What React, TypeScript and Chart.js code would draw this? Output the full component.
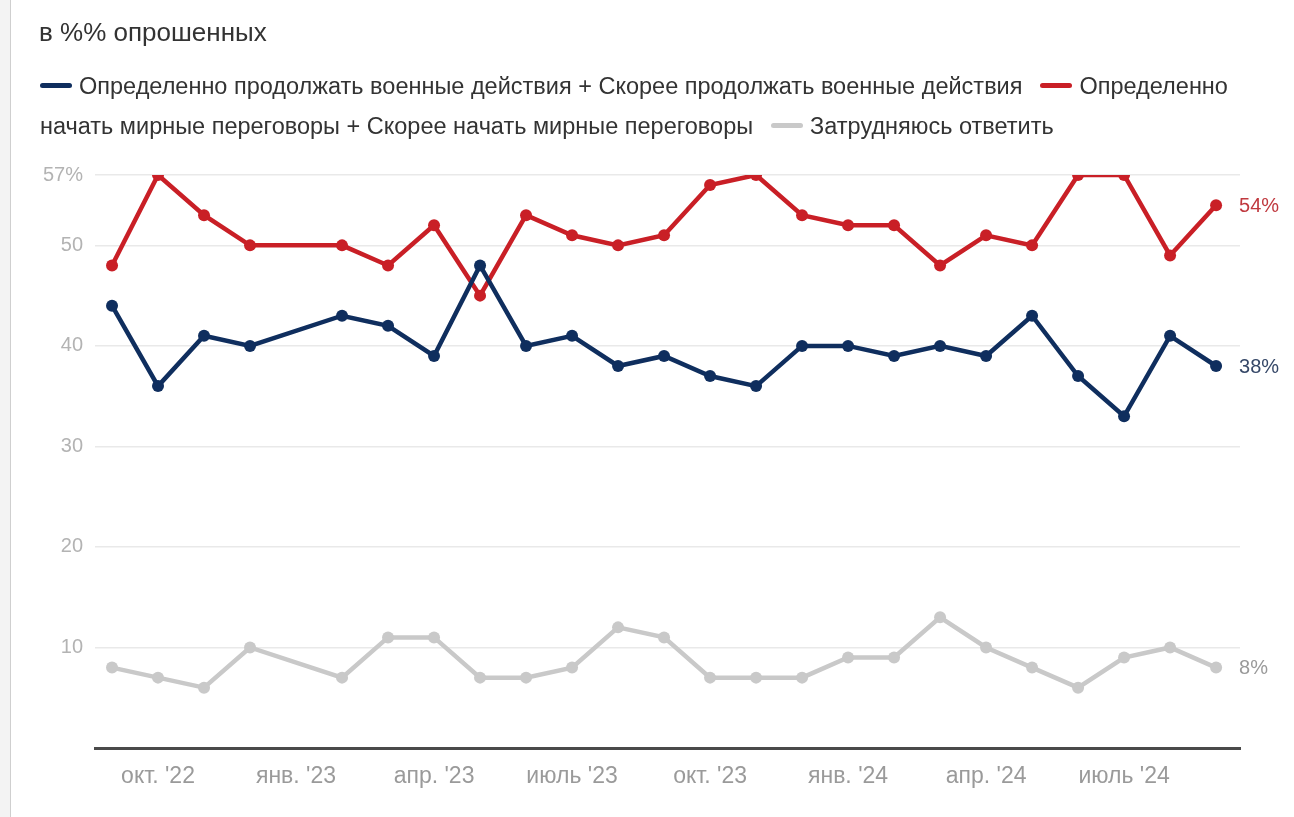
import React, { useEffect, useRef } from "react";
import { Chart, registerables } from "chart.js";

Chart.register(...registerables);

const surveyMonths = [
  "2022-09", "2022-10", "2022-11", "2022-12",
  "2023-02", "2023-03", "2023-04", "2023-05", "2023-06", "2023-07", "2023-08", "2023-09", "2023-10", "2023-11", "2023-12",
  "2024-01", "2024-02", "2024-03", "2024-04", "2024-05", "2024-06", "2024-07", "2024-08", "2024-09",
];

const warValues = [44, 36, 41, 40, 43, 42, 39, 48, 40, 41, 38, 39, 37, 36, 40, 40, 39, 40, 39, 43, 37, 33, 41, 38];
const peaceValues = [48, 57, 53, 50, 50, 48, 52, 45, 53, 51, 50, 51, 56, 57, 53, 52, 52, 48, 51, 50, 57, 57, 49, 54];
const unsureValues = [8, 7, 6, 10, 7, 11, 11, 7, 7, 8, 12, 11, 7, 7, 7, 9, 9, 13, 10, 8, 6, 9, 10, 8];

const tickMonths = ["2022-10", "2023-01", "2023-04", "2023-07", "2023-10", "2024-01", "2024-04", "2024-07"];
const tickLabels = ["окт. '22", "янв. '23", "апр. '23", "июль '23", "окт. '23", "янв. '24", "апр. '24", "июль '24"];

const yTicks = [0, 10, 20, 30, 40, 50, 57];

const seriesNames = [
  "Определенно продолжать военные действия + Скорее продолжать военные действия",
  "Определенно начать мирные переговоры + Скорее начать мирные переговоры",
  "Затрудняюсь ответить",
];

const BLUE = "#0f2e5e";
const RED = "#c91f26";
const GRAY = "#c9c9c9";

const monthIndex = (s: string) => {
  const [y, m] = s.split("-").map(Number);
  return (y - 2022) * 12 + (m - 9);
};

const toPoints = (vals: number[]) => vals.map((v, i) => ({ x: monthIndex(surveyMonths[i]), y: v }));

const FONT = "'Liberation Sans', Arial, Helvetica, sans-serif";

export default function App() {
  const ref = useRef<HTMLCanvasElement | null>(null);

  useEffect(() => {
    document.body.style.margin = "0";
    const canvas = ref.current;
    if (!canvas) return;

    const endLabels = {
      id: "endLabels",
      afterDatasetsDraw(chart: any) {
        const ctx = chart.ctx;
        ctx.save();
        ctx.font = `20px ${FONT}`;
        ctx.textAlign = "left";
        ctx.textBaseline = "middle";
        chart.data.datasets.forEach((ds: any, i: number) => {
          const meta = chart.getDatasetMeta(i);
          const pt = meta.data[meta.data.length - 1];
          const v = ds.data[ds.data.length - 1].y;
          ctx.fillStyle = ds.endLabelColor;
          ctx.fillText(`${v}%`, pt.x + 23, pt.y + 1);
        });
        ctx.restore();
      },
    };

    const chart = new Chart(canvas, {
      type: "line",
      data: {
        datasets: [
          {
            label: seriesNames[2],
            data: toPoints(unsureValues),
            borderColor: GRAY,
            backgroundColor: GRAY,
            borderWidth: 4.5,
            pointRadius: 6,
            pointBorderWidth: 0,
            endLabelColor: "#9a9a9a",
          } as any,
          {
            label: seriesNames[0],
            data: toPoints(warValues),
            borderColor: BLUE,
            backgroundColor: BLUE,
            borderWidth: 4.5,
            pointRadius: 6,
            pointBorderWidth: 0,
            endLabelColor: "#364868",
          } as any,
          {
            label: seriesNames[1],
            data: toPoints(peaceValues),
            borderColor: RED,
            backgroundColor: RED,
            borderWidth: 4.5,
            pointRadius: 6,
            pointBorderWidth: 0,
            endLabelColor: "#c0393f",
          } as any,
        ],
      },
      options: {
        animation: false,
        responsive: false,
        maintainAspectRatio: false,
        events: [],
        layout: { padding: { top: 175, right: 54, bottom: 0, left: 0 } },
        plugins: {
          legend: { display: false },
          tooltip: { enabled: false },
        },
        scales: {
          x: {
            type: "linear",
            min: -0.37,
            max: 24.52,
            afterBuildTicks: (scale: any) => {
              scale.ticks = tickMonths.map((m) => ({ value: monthIndex(m) }));
            },
            afterFit: (scale: any) => {
              scale.height = 69;
            },
            grid: { display: false, drawTicks: false },
            border: { display: true, color: "#4a4a4a", width: 3 },
            ticks: {
              autoSkip: false,
              maxRotation: 0,
              padding: 15,
              color: "#9a9a9a",
              font: { family: FONT, size: 23 },
              callback: (v: any) => {
                const i = tickMonths.findIndex((m) => monthIndex(m) === v);
                return i >= 0 ? tickLabels[i] : "";
              },
            },
          },
          y: {
            min: 0,
            max: 57,
            afterBuildTicks: (scale: any) => {
              scale.ticks = yTicks.map((v) => ({ value: v }));
            },
            afterFit: (scale: any) => {
              scale.width = 95;
            },
            grid: {
              color: (c: any) => (c.tick && c.tick.value === 0 ? "rgba(0,0,0,0)" : "#e9e9e9"),
              lineWidth: 1.5,
              drawTicks: false,
            },
            border: { display: false },
            ticks: {
              padding: 12,
              color: "#b3b3b3",
              font: { family: FONT, size: 20 },
              callback: (v: any) => (v === 0 ? "" : v === 57 ? "57%" : String(v)),
            },
          },
        },
      } as any,
      plugins: [endLabels],
    });

    return () => chart.destroy();
  }, []);

  const marker = (color: string) => (
    <span
      style={{
        display: "inline-block",
        width: 32,
        height: 5,
        borderRadius: 2.5,
        background: color,
        verticalAlign: "middle",
        marginRight: 7,
        position: "relative",
        top: -2,
      }}
    />
  );

  const peaceWords = seriesNames[1].split(" ");

  return (
    <div style={{ position: "relative", width: 1294, height: 817, background: "#fff", overflow: "hidden", fontFamily: FONT }}>
      <div
        style={{
          position: "absolute",
          left: 0,
          top: 0,
          width: 10,
          height: 817,
          background: "#f3f3f3",
          borderRight: "1.5px solid #cfcfcf",
        }}
      />
      <canvas ref={ref} width={1294} height={817} style={{ position: "absolute", left: 0, top: 0, width: 1294, height: 817 }} />
      <div style={{ position: "absolute", left: 39, top: 16, fontSize: 26, color: "#333", lineHeight: "32px", whiteSpace: "nowrap" }}>
        в %% опрошенных
      </div>
      <div
        style={{
          position: "absolute",
          left: 40,
          top: 66,
          width: 1240,
          fontSize: 23.5,
          color: "#333",
          lineHeight: "40px",
          whiteSpace: "nowrap",
        }}
      >
        {marker(BLUE)}
        <span>{seriesNames[0]}</span>
        <span style={{ display: "inline-block", width: 18 }} />
        {marker(RED)}
        <span>{peaceWords[0]}</span>
        <br />
        <span>{peaceWords.slice(1).join(" ")}</span>
        <span style={{ display: "inline-block", width: 18 }} />
        {marker(GRAY)}
        <span>{seriesNames[2]}</span>
      </div>
    </div>
  );
}
